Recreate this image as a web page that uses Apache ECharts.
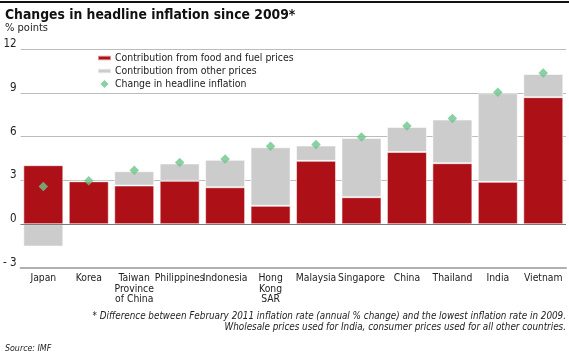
<!DOCTYPE html>
<html><head><meta charset="utf-8">
<script src="https://cdn.jsdelivr.net/npm/echarts@6/dist/echarts.min.js"></script>
<style>html,body{margin:0;padding:0;background:#fff}#c{width:569px;height:359px}</style>
</head><body><div id="c"></div>
<script>
const categories = ['Japan','Korea','Taiwan\nProvince\nof China','Philippines','Indonesia','Hong\nKong\nSAR','Malaysia','Singapore','China','Thailand','India','Vietnam'];
const foodFuel = [4.04, 2.94, 2.65, 2.97, 2.53, 1.26, 4.34, 1.85, 4.95, 4.18, 2.90, 8.70];
const otherPrices = [-1.53, 0, 0.98, 1.19, 1.88, 4.01, 1.05, 4.06, 1.71, 2.99, 6.07, 1.59];
const headline = [2.58, 2.97, 3.70, 4.22, 4.47, 5.34, 5.46, 5.98, 6.73, 7.24, 9.04, 10.36];
const yTicks = [-3, 0, 3, 6, 9, 12];

const FONT = '"Liberation Sans Narrow","DejaVu Sans Condensed",sans-serif';
const chart = echarts.init(document.getElementById('c'), null, {renderer:'canvas'});
chart.setOption({
  animation:false,
  textStyle:{fontFamily:FONT},
  grid:{left:20,right:3,top:49,bottom:91,containLabel:false},
  legend:{
    orient:'vertical', left:97, top:52, padding:0, itemGap:1, itemWidth:13, itemHeight:8,
    textStyle:{fontFamily:FONT,fontSize:10.4,color:'#222',lineHeight:12,padding:[0,0,0,-1]},
    data:[
      {name:'Contribution from food and fuel prices', icon:'path://M0,0h13v4.5h-13z'},
      {name:'Contribution from other prices', icon:'path://M0,0h13v4.5h-13z'},
      {name:'Change in headline inflation', icon:'path://M4,0L8,4L4,8L0,4z'}
    ]
  },
  xAxis:{
    type:'category', data:categories, position:'bottom',
    axisLine:{onZero:false,lineStyle:{color:'#b0b0b0',width:2}},
    axisTick:{alignWithLabel:true,inside:true,length:5,lineStyle:{color:'#888',width:1}},
    axisLabel:{interval:0,fontFamily:FONT,fontSize:10.3,color:'#222',lineHeight:10.7,margin:5}
  },
  yAxis:{
    type:'value', min:-3, max:12, interval:3,
    axisLine:{show:false}, axisTick:{show:false},
    splitLine:{lineStyle:{color:'#bcbcbc',width:1}},
    axisLabel:{fontFamily:FONT,fontSize:11.5,color:'#222',margin:4,verticalAlign:'bottom',padding:[0,0,-1,0],
      formatter:v=> v<0 ? '- '+Math.abs(v) : String(v)}
  },
  series:[
    {name:'Contribution from food and fuel prices', type:'bar', stack:'a', data:foodFuel, barCategoryGap:'12%',
     itemStyle:{color:'#AE1018',borderColor:'rgba(255,255,255,0.55)',borderWidth:1},
     markLine:{silent:true,symbol:'none',label:{show:false},lineStyle:{color:'#7a7a7a',width:1.2,type:'solid'},data:[{yAxis:0}]}
    },
    {name:'Contribution from other prices', type:'bar', stack:'a', data:otherPrices,
     itemStyle:{color:'#CCCCCC',borderColor:'rgba(255,255,255,0.55)',borderWidth:1}},
    {name:'Change in headline inflation', type:'scatter', data:headline, symbol:'diamond', symbolSize:[9.5,9.5], z:5,
     itemStyle:{color:'#6CC48B'}}
  ],
  graphic:[
    {type:'rect', shape:{x:0,y:1,width:569,height:2}, style:{fill:'#111'}},
    {type:'text', x:5, y:15, style:{text:'Changes in headline inflation since 2009*', font:'bold 13.8px '+FONT, fill:'#111', verticalAlign:'middle'}},
    {type:'text', x:5, y:28, style:{text:'% points', font:'11px '+FONT, fill:'#222', verticalAlign:'middle'}},
    {type:'text', x:566, y:316, style:{text:'* Difference between February 2011 inflation rate (annual % change) and the lowest inflation rate in 2009.', font:'italic 9.8px '+FONT, fill:'#222', align:'right', verticalAlign:'middle'}},
    {type:'text', x:566, y:327, style:{text:'Wholesale prices used for India, consumer prices used for all other countries.', font:'italic 9.8px '+FONT, fill:'#222', align:'right', verticalAlign:'middle'}},
    {type:'text', x:5, y:349, style:{text:'Source: IMF', font:'italic 8.8px '+FONT, fill:'#222', verticalAlign:'middle'}}
  ]
});
</script></body></html>
